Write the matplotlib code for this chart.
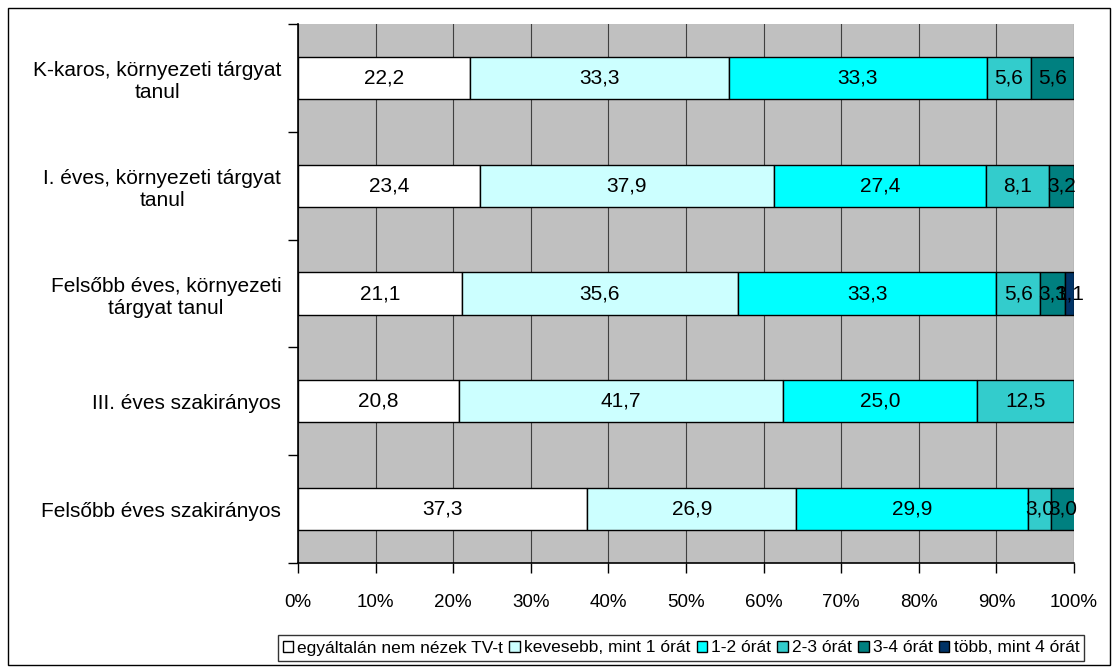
import matplotlib
matplotlib.use("Agg")
import matplotlib.pyplot as plt
from matplotlib.patches import Rectangle

plt.rcParams['font.family'] = ['Liberation Sans', 'DejaVu Sans']

categories = [
    "K-karos, környezeti tárgyat\ntanul",
    "I. éves, környezeti tárgyat\ntanul",
    "Felsőbb éves, környezeti\ntárgyat tanul",
    "III. éves szakirányos",
    "Felsőbb éves szakirányos",
]
series_names = [
    "egyáltalán nem nézek TV-t",
    "kevesebb, mint 1 órát",
    "1-2 órát",
    "2-3 órát",
    "3-4 órát",
    "több, mint 4 órát",
]
values = [
    [22.2, 23.4, 21.1, 20.8, 37.3],
    [33.3, 37.9, 35.6, 41.7, 26.9],
    [33.3, 27.4, 33.3, 25.0, 29.9],
    [5.6, 8.1, 5.6, 12.5, 3.0],
    [5.6, 3.2, 3.3, 0.0, 3.0],
    [0.0, 0.0, 1.1, 0.0, 0.0],
]
colors = ["#FFFFFF", "#CCFFFF", "#00FFFF", "#33CCCC", "#008080", "#003366"]
xtick_labels = ["0%", "10%", "20%", "30%", "40%", "50%", "60%", "70%", "80%", "90%", "100%"]

fig = plt.figure(figsize=(11.2, 6.7), dpi=100)
ax = fig.add_axes([298/1120, 1-563/670, (1074-298)/1120, (563-24)/670])
ax.set_facecolor("#C0C0C0")

ypos = list(range(len(categories)))
left = [0.0]*len(categories)
handles = []
for name, vals, col in zip(series_names, values, colors):
    bars = ax.barh(ypos, vals, left=left, height=0.39, color=col,
                   edgecolor="black", linewidth=1.0, label=name, zorder=3)
    handles.append(bars)
    for y, v, l in zip(ypos, vals, left):
        if v > 0:
            ax.text(l + v/2, y, f"{v:.1f}".replace(".", ","), ha="center", va="center",
                    fontsize=15, color="black", zorder=4)
    left = [a + b for a, b in zip(left, vals)]

ax.set_xlim(0, 100)
ax.set_ylim(len(categories)-0.5, -0.5)
ax.set_xticks([i*10 for i in range(11)])
ax.set_xticklabels(xtick_labels, fontsize=13.5)
ax.set_yticks(ypos)
ax.set_yticklabels(categories, fontsize=15, ha="right", multialignment="center")
ax.tick_params(axis="y", which="major", length=0, pad=12)
ax.set_yticks([i - 0.5 for i in range(len(categories)+1)], minor=True)
ax.tick_params(axis="y", which="minor", length=7, width=1, direction="out")
ax.tick_params(axis="x", length=7, width=1, direction="out", pad=15)
ax.xaxis.grid(True, color="#404040", linewidth=0.8, zorder=1)
ax.set_axisbelow(True)
for s in ["top", "right"]:
    ax.spines[s].set_visible(False)
for s in ["left", "bottom"]:
    ax.spines[s].set_linewidth(1.2)
    ax.spines[s].set_zorder(5)

leg = fig.legend(handles=handles, labels=series_names, loc="center",
                 bbox_to_anchor=(681/1120, 1-648/670), ncol=6, fontsize=12.5,
                 frameon=True, fancybox=False, edgecolor="black",
                 handlelength=0.6, handleheight=0.6, handletextpad=0.25,
                 columnspacing=0.35, borderpad=0.3, borderaxespad=0.2)
leg.get_frame().set_linewidth(1.0)

fig.patches.append(Rectangle((8/1120, 5/670), 1102/1120, 657/670, transform=fig.transFigure,
                             fill=False, edgecolor="black", linewidth=1.0))

fig.savefig("out.png", dpi=100)
